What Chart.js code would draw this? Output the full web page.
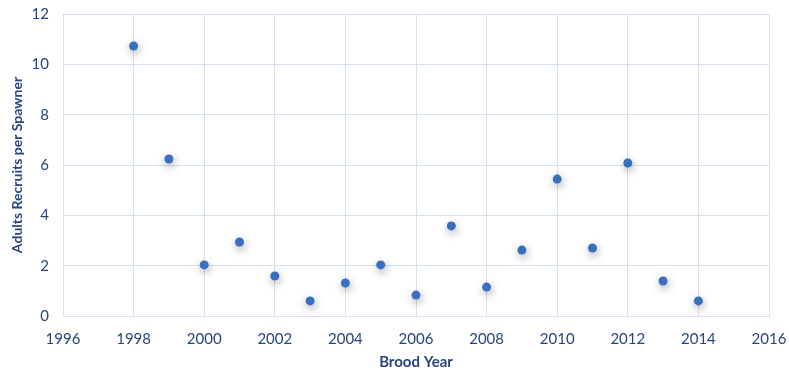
<!DOCTYPE html>
<html>
<head>
<meta charset="utf-8">
<script src="https://cdn.jsdelivr.net/npm/chart.js@4/dist/chart.umd.min.js"></script>
<style>
  html, body { margin: 0; padding: 0; background: #fff; }
  #wrap { width: 789px; height: 375px; position: relative; }
</style>
</head>
<body>
<div id="wrap"><canvas id="chart"></canvas></div>
<script>
const broodYears = [1998, 1999, 2000, 2001, 2002, 2003, 2004, 2005, 2006, 2007, 2008, 2009, 2010, 2011, 2012, 2013, 2014];
const recruitsPerSpawner = [10.73, 6.24, 2.03, 2.94, 1.59, 0.6, 1.31, 2.03, 0.83, 3.58, 1.15, 2.62, 5.44, 2.7, 6.08, 1.39, 0.6];
const xTicks = [1996, 1998, 2000, 2002, 2004, 2006, 2008, 2010, 2012, 2014, 2016];
const yTicks = [0, 2, 4, 6, 8, 10, 12];

const ink = "#27467d";
const gridColor = "#d5e0f2";

// soft shadow under markers, like the spreadsheet original
const markerShadow = {
  id: "markerShadow",
  beforeDatasetsDraw(chart) {
    const ctx = chart.ctx;
    ctx.save();
    ctx.shadowColor = "rgba(0,0,0,0.38)";
    ctx.shadowBlur = 8;
    ctx.shadowOffsetX = 1;
    ctx.shadowOffsetY = 3;
  },
  afterDatasetsDraw(chart) {
    chart.ctx.restore();
  },
};

new Chart(document.getElementById("chart"), {
  type: "scatter",
  data: {
    datasets: [{
      data: broodYears.map((y, i) => ({ x: y, y: recruitsPerSpawner[i] })),
      backgroundColor: "#3a6fbf",
      borderColor: "#3a6fbf",
      pointRadius: 4.5,
      pointHoverRadius: 4.5,
      borderWidth: 0,
    }],
  },
  options: {
    responsive: true,
    maintainAspectRatio: false,
    animation: false,
    layout: { padding: { top: 14, right: 20, left: 0, bottom: 0 } },
    plugins: { legend: { display: false }, tooltip: { enabled: false } },
    scales: {
      x: {
        type: "linear",
        min: 1996,
        max: 2016,
        afterBuildTicks: (axis) => { axis.ticks = xTicks.map((v) => ({ value: v })); },
        afterFit: (s) => { s.height = 59; s.paddingLeft = 0; s.paddingRight = 0; },
        grid: { color: gridColor, drawTicks: false },
        border: { color: gridColor },
        ticks: { color: ink, font: { family: "Lato", size: 15 }, padding: 14, callback: (v) => String(v) },
        title: { display: true, text: "Brood Year", color: ink, font: { family: "Lato", size: 15, weight: "bold" }, padding: { top: 0, bottom: 4 } },
      },
      y: {
        min: 0,
        max: 12,
        afterBuildTicks: (axis) => { axis.ticks = yTicks.map((v) => ({ value: v })); },
        afterFit: (s) => { s.width = 63; s.paddingTop = 0; s.paddingBottom = 0; },
        grid: { color: gridColor, drawTicks: false },
        border: { color: gridColor },
        ticks: { color: ink, font: { family: "Lato", size: 15 }, padding: 14 },
        title: { display: true, text: "Adults Recruits per Spawner", color: ink, font: { family: "Lato", size: 14, weight: "bold" }, padding: { top: 9, bottom: 0 } },
      },
    },
  },
  plugins: [markerShadow],
});
</script>
</body>
</html>
